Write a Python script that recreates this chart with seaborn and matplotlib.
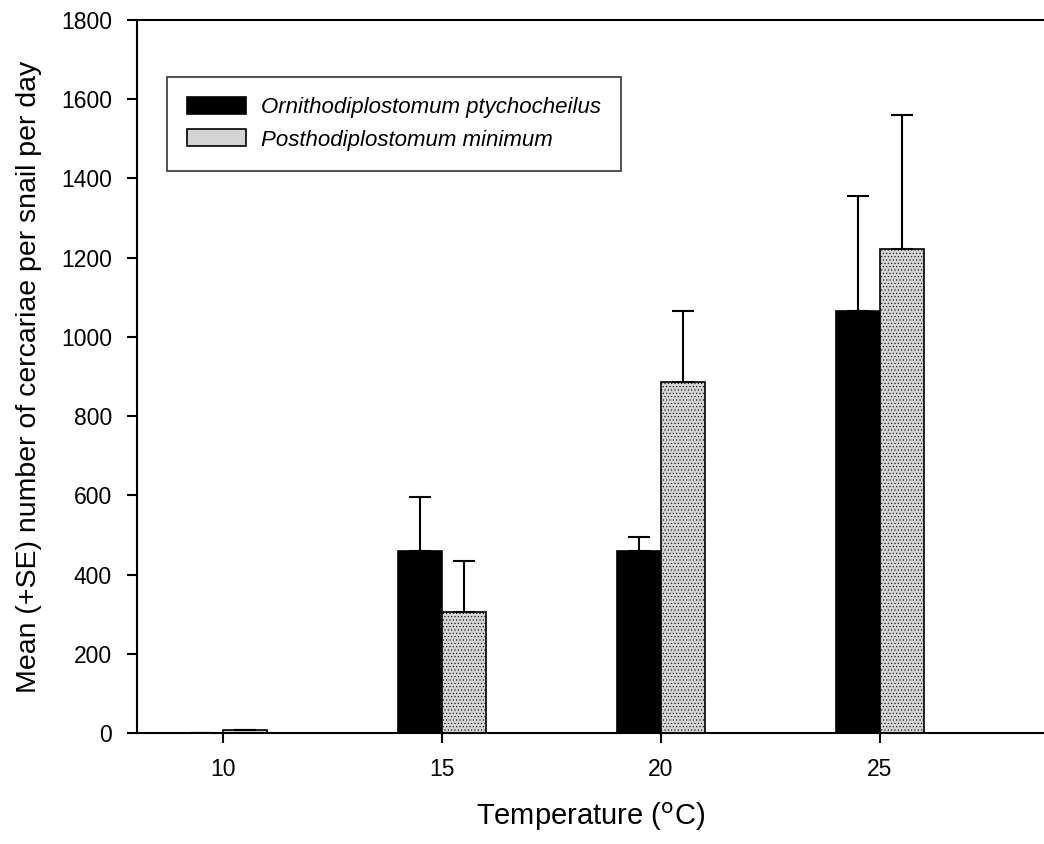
import numpy as np
import pandas as pd
import matplotlib
matplotlib.use('Agg')
import matplotlib.pyplot as plt
import seaborn as sns

# valores
temps = [10, 15, 20, 25]
orn_mean = [0, 459, 460, 1065]
orn_se = [0, 138, 36, 290]
pos_mean = [8, 306, 887, 1222]
pos_se = [0, 129, 178, 338]
species = ['Ornithodiplostomum ptychocheilus', 'Posthodiplostomum minimum']

df = pd.DataFrame({
    'temp': temps * 2,
    'mean': orn_mean + pos_mean,
    'species': [species[0]] * 4 + [species[1]] * 4,
})

sns.set_style('ticks', rc={'axes.edgecolor': 'black', 'text.color': 'black',
                           'axes.labelcolor': 'black', 'xtick.color': 'black',
                           'ytick.color': 'black'})
plt.rcParams['font.family'] = ['Liberation Sans', 'DejaVu Sans']
plt.rcParams['hatch.linewidth'] = 0.4

fig = plt.figure(figsize=(10.44, 8.44), dpi=100)
ax = fig.add_axes([137 / 1044, 111 / 844, 1 - 137 / 1044, 713 / 844])

sns.barplot(data=df, x='temp', y='mean', hue='species', native_scale=True,
            width=0.4, palette=['black', '#d4d4d4'], edgecolor='black',
            linewidth=1.2, errorbar=None, ax=ax, legend=True)

# error bars (+SE)
n = len(temps)
for i, (patches, se) in enumerate([(ax.patches[:n], orn_se), (ax.patches[n:2 * n], pos_se)]):
    xs = [p.get_x() + p.get_width() / 2 for p in patches]
    ys = [p.get_height() for p in patches]
    if i == 1:
        for p in patches:
            p.set_hatch('.....')
    ax.errorbar(xs, ys, yerr=[np.zeros(n), se], fmt='none', ecolor='black',
                elinewidth=1.5, capsize=8, capthick=1.5, zorder=3)

ax.set_xlim(8.03, 28.75)
ax.set_ylim(0, 1800)
ax.set_xticks(temps)
ax.set_xticklabels([str(t) for t in temps])
ax.set_yticks(np.arange(0, 1801, 200))
ax.tick_params(axis='both', labelsize=16.5, width=1.5, length=7, direction='out')
ax.tick_params(axis='x', pad=11)
ax.tick_params(axis='y', pad=11)
for s in ['left', 'bottom', 'top']:
    ax.spines[s].set_linewidth(1.5)
ax.spines['right'].set_visible(False)

ax.set_xlabel('Temperature ($^{\\mathrm{o}}$C)', fontsize=21, labelpad=14)
ax.set_ylabel('Mean (+SE) number of cercariae per snail per day', fontsize=20.5, labelpad=14)

leg = ax.legend(loc='upper left', bbox_to_anchor=(0.033, 0.92), frameon=True,
                fancybox=False, edgecolor='black', prop={'style': 'italic', 'size': 16},
                handlelength=2.65, handleheight=0.8, handletextpad=0.7,
                borderpad=0.9, labelspacing=0.5, borderaxespad=0, title=None)
leg.get_frame().set_linewidth(1.2)

fig.savefig('out.png', dpi=100)
